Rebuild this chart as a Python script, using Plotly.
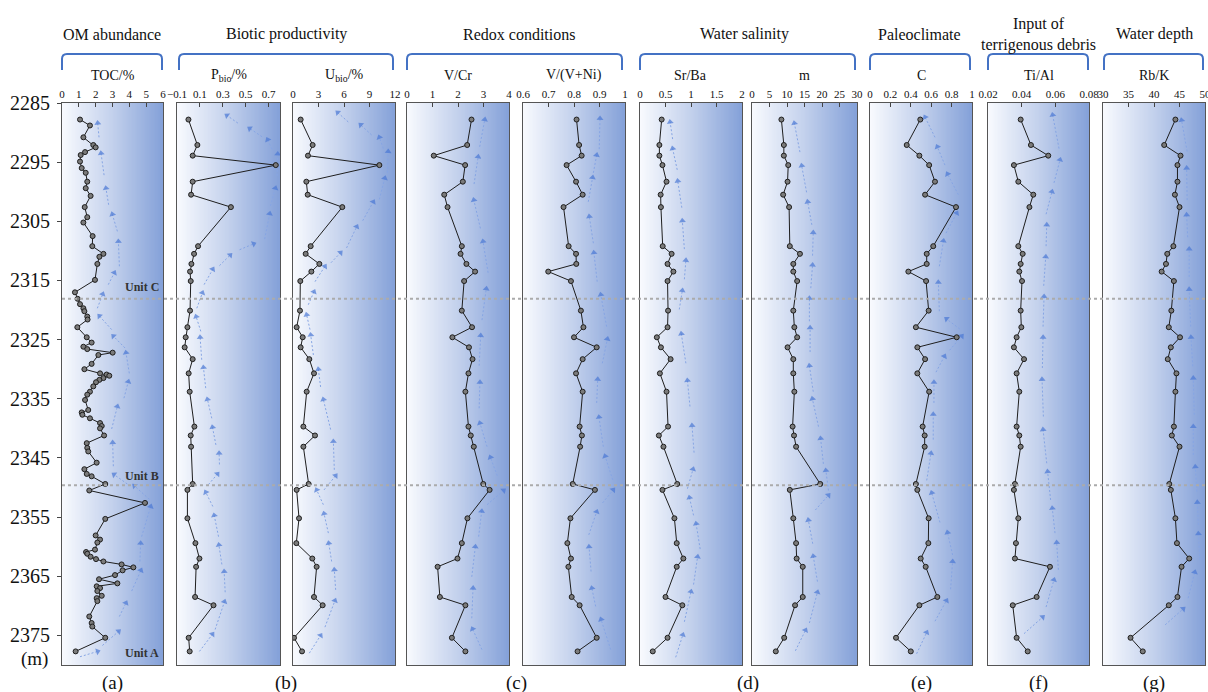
import numpy as np
import plotly.graph_objects as go

W, H = 1208, 692
SERIF = "Liberation Serif, Times New Roman, serif"

# ---------------- data ----------------
DEPTH = [2287.8, 2292.1, 2293.9, 2295.5, 2298.3, 2300.5, 2302.6, 2309.2, 2310.5, 2312.2,
         2313.5, 2315.1, 2320.1, 2322.9, 2324.6, 2326.3, 2328.3, 2330.7, 2333.8, 2339.7,
         2341.2, 2343.1, 2349.4, 2350.4, 2355.2, 2359.4, 2362.0, 2363.4, 2368.5, 2369.9,
         2375.4, 2377.7]

TOC_DEPTH = [2287.8, 2288.8, 2290.8, 2292.1, 2292.5, 2293.3, 2293.8, 2294.9, 2296.0, 2296.8,
             2298.3, 2299.4, 2300.7, 2302.6, 2304.3, 2305.2, 2307.5, 2309.2, 2310.5, 2311.0,
             2312.2, 2314.9, 2317.0, 2318.1, 2319.0, 2319.7, 2320.2, 2321.1, 2321.6, 2322.9,
             2324.6, 2325.5, 2326.2, 2326.6, 2327.2, 2327.6, 2329.1, 2330.0, 2330.7, 2330.9,
             2331.1, 2331.5, 2331.8, 2332.2, 2332.9, 2333.8, 2334.3, 2335.2, 2336.9, 2337.3,
             2337.7, 2338.3, 2339.1, 2339.6, 2340.0, 2341.2, 2342.5, 2343.3, 2343.9, 2345.8,
             2346.9, 2347.7, 2348.1, 2349.4, 2350.5, 2352.6, 2355.3, 2358.1, 2358.8, 2359.3,
             2360.5, 2360.9, 2361.2, 2361.7, 2362.1, 2362.5, 2363.0, 2363.5, 2364.0, 2364.8,
             2365.5, 2366.2, 2366.7, 2367.0, 2367.5, 2368.3, 2368.7, 2369.2, 2371.8, 2372.9,
             2373.5, 2375.4, 2377.7]
TOC = [1.07, 1.66, 1.27, 1.86, 2.0, 1.37, 1.11, 1.07, 1.17, 1.41,
       1.5, 1.41, 1.7, 1.35, 1.5, 1.27, 1.82, 1.8, 2.46, 2.22,
       2.1, 1.96, 0.77, 0.93, 1.07, 1.27, 1.33, 1.5, 1.52, 0.91,
       1.47, 1.76, 1.27, 1.5, 3.01, 2.16, 1.76, 1.33, 2.26, 2.65,
       2.81, 2.46, 2.22, 2.02, 1.86, 1.66, 1.5, 1.37, 1.56, 1.17,
       1.21, 1.66, 2.26, 2.36, 2.26, 2.5, 1.47, 1.5, 1.56, 2.06,
       1.33, 1.47, 1.76, 2.57, 1.62, 4.93, 2.57, 2.0, 2.26, 2.1,
       1.96, 1.43, 1.5, 1.7, 2.02, 2.46, 3.54, 4.24, 3.6, 3.15,
       2.2, 3.29, 2.06, 2.26, 2.1, 2.36, 2.06, 2.1, 1.62, 1.76,
       1.8, 2.57, 0.81]

P_BIO = [0.0, 0.078, 0.037, 0.763, 0.037, 0.023, 0.371, 0.084, 0.049, 0.026,
         0.014, 0.02, 0.014, -0.009, -0.024, -0.033, 0.037, 0.002, 0.011, 0.052,
         0.02, 0.023, 0.037, -0.009, -0.009, 0.061, 0.096, 0.067, 0.058, 0.219,
         0.002, 0.011]
U_BIO = [0.9, 2.31, 1.76, 10.16, 1.57, 1.73, 5.8, 2.08, 1.49, 3.1,
         2.16, 0.86, 0.82, 0.43, 1.14, 0.9, 1.92, 2.47, 1.61, 1.22,
         2.59, 1.22, 1.84, 0.43, 0.71, 0.39, 2.27, 2.78, 2.47, 3.49,
         0.12, 1.06]
V_CR = [2.53, 2.36, 1.05, 2.28, 2.19, 1.46, 1.59, 2.15, 2.1, 2.33,
        2.67, 2.24, 2.15, 2.55, 1.78, 2.43, 2.57, 2.41, 2.29, 2.41,
        2.5, 2.62, 2.99, 3.24, 2.37, 2.15, 1.98, 1.2, 1.29, 2.29,
        1.76, 2.29]
V_VNI = [0.81, 0.82, 0.83, 0.771, 0.808, 0.834, 0.759, 0.779, 0.808, 0.809,
         0.699, 0.788, 0.827, 0.837, 0.8, 0.889, 0.834, 0.808, 0.834, 0.822,
         0.831, 0.824, 0.795, 0.882, 0.786, 0.774, 0.788, 0.778, 0.791, 0.822,
         0.889, 0.814]
SR_BA = [0.425, 0.38, 0.38, 0.44, 0.52, 0.405, 0.41, 0.445, 0.62, 0.54,
         0.655, 0.54, 0.55, 0.54, 0.33, 0.41, 0.6, 0.39, 0.52, 0.55,
         0.37, 0.46, 0.73, 0.44, 0.675, 0.72, 0.85, 0.72, 0.5, 0.83,
         0.54, 0.25]
M_VAL = [8.4, 9.1, 9.1, 10.35, 10.16, 8.9, 10.6, 10.8, 13.7, 11.8,
         11.8, 12.9, 11.8, 12.1, 12.9, 10.16, 11.8, 11.8, 12.1, 11.6,
         12.0, 12.6, 19.5, 10.8, 11.8, 12.6, 12.75, 14.5, 14.5, 12.3,
         9.2, 6.8]
C_VAL = [0.493, 0.36, 0.484, 0.58, 0.637, 0.54, 0.843, 0.62, 0.556, 0.556,
         0.376, 0.55, 0.575, 0.45, 0.85, 0.464, 0.54, 0.464, 0.58, 0.516,
         0.536, 0.536, 0.45, 0.464, 0.575, 0.572, 0.497, 0.546, 0.66, 0.484,
         0.255, 0.4]
TI_AL = [0.0394, 0.0455, 0.0558, 0.0354, 0.038, 0.0469, 0.0446, 0.038, 0.0406, 0.0394,
         0.0386, 0.0402, 0.0394, 0.0398, 0.037, 0.0354, 0.0414, 0.037, 0.0386, 0.037,
         0.0386, 0.0394, 0.036, 0.0354, 0.038, 0.0366, 0.036, 0.0568, 0.0489, 0.0347,
         0.037, 0.0436]
RB_K = [44.2, 42.0, 45.2, 44.6, 44.6, 44.1, 45.0, 43.8, 42.6, 42.35,
        41.5, 43.9, 43.4, 42.9, 45.1, 43.3, 42.7, 44.4, 44.2, 43.9,
        43.5, 45.0, 43.0, 43.3, 44.2, 44.5, 46.9, 45.4, 44.6, 42.9,
        35.4, 37.8]

# trend arrows: (tail value, tail depth, head value, head depth)
TOC_ARROWS = [(2.2, 2290.8, 2.12, 2288.4), (2.5, 2297.2, 2.32, 2293.5), (2.77, 2302.2, 2.61, 2299.4),
              (3.29, 2306.7, 2.99, 2303.8), (3.41, 2312.6, 3.35, 2308.4), (2.75, 2315.7, 3.11, 2313.7),
              (2.1, 2319.7, 2.42, 2317.3), (2.95, 2323.3, 2.22, 2321.0), (3.74, 2326.4, 3.05, 2324.4),
              (4.0, 2330.7, 3.8, 2327.2), (3.68, 2334.9, 3.94, 2332.1), (2.95, 2340.1, 3.29, 2336.3),
              (3.05, 2346.4, 3.01, 2342.4), (3.88, 2349.4, 3.09, 2347.8), (5.19, 2352.0, 4.3, 2349.7),
              (4.73, 2358.3, 5.27, 2353.2), (4.63, 2362.5, 4.67, 2359.4), (4.14, 2367.5, 4.69, 2364.0),
              (3.41, 2371.8, 3.8, 2369.5), (2.4, 2376.7, 3.37, 2374.3), (1.07, 2378.6, 2.12, 2377.7)]
P_ARROWS = [(0.432, 2288.4, 0.336, 2287.1), (0.643, 2290.7, 0.535, 2289.3), (0.73, 2292.8, 0.692, 2291.2),
            (0.774, 2297.3, 0.78, 2293.6), (0.716, 2302.4, 0.76, 2299.4), (0.666, 2308.0, 0.71, 2303.7),
            (0.447, 2309.8, 0.57, 2308.8), (0.271, 2312.5, 0.365, 2310.7), (0.137, 2315.7, 0.213, 2313.1),
            (0.073, 2319.7, 0.122, 2317.1), (0.108, 2323.6, 0.067, 2321.1), (0.116, 2328.4, 0.102, 2324.6),
            (0.151, 2333.2, 0.131, 2329.7), (0.204, 2338.3, 0.166, 2335.1), (0.24, 2342.8, 0.21, 2339.8),
            (0.271, 2346.1, 0.268, 2344.2), (0.175, 2349.5, 0.254, 2347.7), (0.213, 2353.2, 0.151, 2350.8),
            (0.263, 2358.3, 0.225, 2354.7), (0.292, 2363.0, 0.266, 2359.7), (0.321, 2367.7, 0.312, 2364.2),
            (0.233, 2374.0, 0.315, 2369.3), (0.096, 2377.7, 0.21, 2374.8)]
U_ARROWS = [(6.5, 2288.2, 5.25, 2286.6), (9.25, 2290.4, 7.96, 2288.7), (10.63, 2292.7, 10.16, 2290.8),
            (11.1, 2296.8, 11.2, 2293.2), (10.16, 2301.3, 10.8, 2297.7), (8.2, 2304.9, 9.45, 2301.7),
            (6.3, 2309.5, 7.5, 2305.9), (4.47, 2312.0, 5.6, 2310.3), (2.59, 2315.2, 3.76, 2312.6),
            (1.8, 2319.1, 2.47, 2316.9), (2.0, 2323.3, 1.6, 2320.8), (2.4, 2327.6, 2.08, 2324.2),
            (3.25, 2333.0, 2.98, 2330.0), (4.43, 2340.2, 3.57, 2335.1), (4.86, 2347.0, 4.75, 2342.2),
            (3.65, 2350.4, 5.02, 2348.0), (3.57, 2352.9, 2.78, 2350.4), (4.16, 2357.7, 3.65, 2354.4),
            (4.55, 2362.5, 4.2, 2359.4), (5.02, 2367.3, 4.86, 2363.9), (3.76, 2373.6, 4.94, 2369.1),
            (1.92, 2378.0, 3.25, 2375.0)]
VCR_ARROWS = [(2.85, 2292.4, 3.05, 2287.8), (2.63, 2298.7, 2.79, 2294.1), (2.88, 2306.2, 2.62, 2301.4),
              (3.18, 2313.7, 2.98, 2308.4), (2.94, 2321.7, 3.11, 2316.4), (2.83, 2329.4, 2.89, 2324.3),
              (2.83, 2336.6, 2.86, 2332.2), (3.14, 2343.1, 2.86, 2339.1), (3.54, 2348.0, 3.27, 2344.9),
              (3.14, 2352.9, 3.79, 2350.5), (2.81, 2358.3, 2.93, 2354.0), (2.54, 2365.1, 2.68, 2360.0),
              (2.54, 2372.1, 2.59, 2367.0), (2.94, 2377.4, 2.57, 2373.9)]
VVNI_ARROWS = [(0.899, 2292.8, 0.902, 2287.6), (0.876, 2296.8, 0.889, 2293.8), (0.856, 2301.7, 0.873, 2297.6),
               (0.876, 2308.7, 0.86, 2304.2), (0.891, 2315.2, 0.878, 2310.3), (0.928, 2322.8, 0.905, 2317.4),
               (0.911, 2329.0, 0.931, 2324.9), (0.889, 2335.7, 0.893, 2331.7), (0.915, 2343.1, 0.898, 2338.1),
               (0.952, 2348.7, 0.922, 2344.7), (0.912, 2352.6, 0.954, 2350.4), (0.858, 2358.0, 0.889, 2354.1),
               (0.867, 2364.2, 0.859, 2360.0), (0.885, 2370.1, 0.87, 2367.0), (0.944, 2377.4, 0.906, 2372.3)]
SRBA_ARROWS = [(0.64, 2291.1, 0.59, 2288.2), (0.73, 2296.3, 0.64, 2292.7), (0.82, 2302.7, 0.74, 2298.2),
               (0.87, 2309.7, 0.83, 2304.9), (0.87, 2314.8, 0.9, 2311.6), (0.77, 2319.9, 0.83, 2316.7),
               (0.9, 2329.0, 0.81, 2324.0), (0.98, 2336.3, 0.93, 2331.9), (1.06, 2344.1, 1.02, 2339.5),
               (0.93, 2350.2, 1.04, 2346.9), (1.05, 2354.7, 0.97, 2351.7), (1.18, 2360.4, 1.1, 2356.1),
               (1.05, 2366.4, 1.13, 2361.7), (0.87, 2372.7, 1.0, 2367.6), (0.7, 2378.7, 0.84, 2374.9)]
M_ARROWS = [(13.7, 2293.3, 12.1, 2288.4), (15.6, 2300.1, 14.2, 2295.6), (17.1, 2305.6, 15.9, 2301.7),
            (17.3, 2310.8, 17.5, 2306.9), (16.8, 2316.3, 17.3, 2312.4), (16.4, 2321.9, 16.4, 2318.0),
            (16.6, 2327.1, 16.6, 2323.0), (17.5, 2333.8, 16.4, 2329.4), (19.0, 2339.7, 17.25, 2335.0),
            (20.4, 2346.0, 19.6, 2341.7), (21.85, 2350.5, 21.1, 2347.1), (18.1, 2353.8, 21.85, 2351.3),
            (17.35, 2359.5, 16.1, 2355.5), (18.7, 2365.9, 17.5, 2361.6), (16.4, 2372.9, 18.7, 2367.7),
            (12.4, 2377.6, 15.3, 2374.1)]
C_ARROWS = [(0.637, 2290.8, 0.54, 2287.4), (0.735, 2295.5, 0.66, 2292.4), (0.866, 2300.5, 0.76, 2297.0),
            (0.745, 2307.0, 0.85, 2303.6), (0.68, 2312.6, 0.72, 2308.3), (0.68, 2320.2, 0.67, 2315.3),
            (0.88, 2323.2, 0.75, 2321.5), (0.78, 2326.8, 0.9, 2324.4), (0.647, 2330.5, 0.73, 2327.8),
            (0.627, 2335.7, 0.627, 2332.2), (0.62, 2341.9, 0.62, 2337.6), (0.556, 2348.8, 0.598, 2344.2),
            (0.686, 2355.9, 0.605, 2350.9), (0.81, 2361.4, 0.76, 2357.6), (0.79, 2367.2, 0.81, 2362.5),
            (0.637, 2372.6, 0.75, 2369.1), (0.457, 2378.1, 0.556, 2374.5)]
TIAL_ARROWS = [(0.0622, 2292.7, 0.0584, 2287.0), (0.0592, 2298.5, 0.0628, 2294.6), (0.0545, 2303.8, 0.058, 2300.0),
               (0.0545, 2309.2, 0.0549, 2305.6), (0.0531, 2315.9, 0.0543, 2311.0), (0.0527, 2322.8, 0.0533, 2317.7),
               (0.0523, 2329.8, 0.0527, 2324.6), (0.0529, 2338.0, 0.0521, 2331.7), (0.0549, 2345.9, 0.0527, 2340.2),
               (0.0572, 2352.1, 0.0554, 2347.3), (0.0598, 2357.7, 0.0582, 2353.5), (0.0618, 2363.9, 0.0608, 2359.3),
               (0.0545, 2370.2, 0.0592, 2365.6), (0.0414, 2374.7, 0.0525, 2371.9)]
RBK_ARROWS = [(46.5, 2293.2, 45.4, 2287.9), (46.5, 2301.4, 46.4, 2296.0), (46.6, 2307.7, 46.4, 2303.9),
              (46.9, 2314.4, 46.9, 2309.7), (47.2, 2322.8, 46.9, 2316.5), (47.6, 2329.5, 47.25, 2324.6),
              (47.9, 2337.7, 47.7, 2331.5), (47.7, 2344.5, 47.7, 2339.7), (48.4, 2350.7, 48.1, 2346.5),
              (48.7, 2356.3, 48.5, 2352.5), (49.0, 2362.2, 48.7, 2357.8), (46.7, 2368.7, 48.0, 2364.3),
              (42.2, 2373.2, 45.75, 2370.5)]

DEPTH_TICKS = [2285, 2295, 2305, 2315, 2325, 2335, 2345, 2355, 2365, 2375]
DEPTH_RANGE = [2380, 2285]
UNIT_BOUNDS = [2318.1, 2349.6]

SUBTITLES = ["TOC/%", "P<sub>bio</sub>/%", "U<sub>bio</sub>/%", "V/Cr", "V/(V+Ni)",
             "Sr/Ba", "m", "C", "Ti/Al", "Rb/K"]
GROUPS = ["OM abundance", "Biotic productivity", "Redox conditions", "Water salinity",
          "Paleoclimate", "Input of<br>terrigenous debris", "Water depth"]
LETTERS = ["(a)", "(b)", "(c)", "(d)", "(e)", "(f)", "(g)"]

# ---------------- layout geometry (pixels) ----------------
PANEL_PX = [(62, 163), (177, 280), (293, 395), (407, 509), (523, 625),
            (640, 742), (752, 857), (870, 972), (988, 1089), (1103, 1205)]
GROUP_PX = [(62, 162), (179, 393), (407, 622), (640, 855), (870, 970), (988, 1088), (1104, 1203)]
GROUP_TXT_X = [112, 286, 519, 744, 919, 1038, 1154]
LETTER_X = [112, 286, 516, 748, 921, 1038, 1154]
PLOT_TOP, PLOT_BOT = 103, 665


def X(px):
    return px / W


def Y(py):
    return 1 - py / H


panels = [
    dict(vals=TOC, depth=TOC_DEPTH, rng=[0, 6], tv=[0, 1, 2, 3, 4, 5, 6], tt=None, arrows=TOC_ARROWS),
    dict(vals=P_BIO, depth=DEPTH, rng=[-0.1, 0.8], tv=[-0.1, 0.1, 0.3, 0.5, 0.7],
         tt=["\u22120.1", "0.1", "0.3", "0.5", "0.7"], arrows=P_ARROWS),
    dict(vals=U_BIO, depth=DEPTH, rng=[0, 12], tv=[0, 3, 6, 9, 12], tt=None, arrows=U_ARROWS),
    dict(vals=V_CR, depth=DEPTH, rng=[0, 4], tv=[0, 1, 2, 3, 4], tt=None, arrows=VCR_ARROWS),
    dict(vals=V_VNI, depth=DEPTH, rng=[0.6, 1.0], tv=[0.6, 0.7, 0.8, 0.9, 1.0],
         tt=["0.6", "0.7", "0.8", "0.9", "1"], arrows=VVNI_ARROWS),
    dict(vals=SR_BA, depth=DEPTH, rng=[0, 2], tv=[0, 0.5, 1, 1.5, 2],
         tt=["0", "0.5", "1", "1.5", "2"], arrows=SRBA_ARROWS),
    dict(vals=M_VAL, depth=DEPTH, rng=[0, 30], tv=[0, 5, 10, 15, 20, 25, 30], tt=None, arrows=M_ARROWS),
    dict(vals=C_VAL, depth=DEPTH, rng=[0, 1], tv=[0, 0.2, 0.4, 0.6, 0.8, 1.0],
         tt=["0", "0.2", "0.4", "0.6", "0.8", "1"], arrows=C_ARROWS),
    dict(vals=TI_AL, depth=DEPTH, rng=[0.02, 0.08], tv=[0.02, 0.04, 0.06, 0.08],
         tt=["0.02", "0.04", "0.06", "0.08"], arrows=TIAL_ARROWS),
    dict(vals=RB_K, depth=DEPTH, rng=[30, 50], tv=[30, 35, 40, 45, 50], tt=None, arrows=RBK_ARROWS),
]

GRAD = [[0.0, "#F8FAFE"], [0.5, "#C2D0EC"], [1.0, "#83A0D8"]]
ARROW_LINE = "#86A5E4"
ARROW_HEAD = "#4A78D4"

fig = go.Figure()
ydom = [Y(PLOT_BOT), Y(PLOT_TOP)]
NG = 80

for i, p in enumerate(panels):
    n = "" if i == 0 else str(i + 1)
    xa, ya = "x" + n, "y" + n
    lo, hi = p["rng"]
    fig.add_trace(go.Heatmap(
        x=np.linspace(lo, hi, NG), y=[2285, 2380],
        z=[np.linspace(0, 1, NG), np.linspace(0, 1, NG)],
        colorscale=GRAD, showscale=False, zsmooth="best", hoverinfo="skip",
        xaxis=xa, yaxis=ya))
    ax, ay, sz = [], [], []
    for t0, d0, t1, d1 in p["arrows"]:
        ax += [t0, t1, None]
        ay += [d0, d1, None]
        sz += [0, 6, 0]
    fig.add_trace(go.Scatter(
        x=ax, y=ay, mode="lines+markers", hoverinfo="skip",
        line=dict(color=ARROW_LINE, width=1, dash="2px,2px"),
        marker=dict(symbol="triangle-up", size=sz, angleref="previous", color=ARROW_HEAD,
                    line=dict(width=0)),
        xaxis=xa, yaxis=ya))
    fig.add_trace(go.Scatter(
        x=p["vals"], y=p["depth"], mode="lines+markers",
        line=dict(color="#1E1E1E", width=1),
        marker=dict(size=5, color="#7A7A7A", line=dict(color="#1E1E1E", width=1)),
        xaxis=xa, yaxis=ya))

    x0, x1 = PANEL_PX[i]
    xaxis = dict(domain=[X(x0), X(x1)], range=p["rng"], side="top", anchor=ya, automargin=False,
                 tickmode="array", tickvals=p["tv"], ticks="inside", ticklen=4,
                 ticklabeloverflow="allow",
                 tickcolor="#444", showline=True, linecolor="#555", linewidth=1, mirror=True,
                 showgrid=False, zeroline=False, fixedrange=True,
                 tickfont=dict(family=SERIF, size=11, color="#111"))
    if p["tt"] is not None:
        xaxis["ticktext"] = p["tt"]
    yaxis = dict(domain=ydom, range=DEPTH_RANGE, anchor=xa, automargin=False, showline=True,
                 linecolor="#555", linewidth=1, mirror=True, showgrid=False, zeroline=False,
                 fixedrange=True, tickmode="array", tickvals=DEPTH_TICKS,
                 showticklabels=(i == 0), ticks="outside" if i == 0 else "", ticklen=4,
                 ticklabelstandoff=3,
                 tickcolor="#444", tickfont=dict(family=SERIF, size=20, color="#111"))
    fig.layout["xaxis" + n] = xaxis
    fig.layout["yaxis" + n] = yaxis

annotations = []
for txt, cx in zip(GROUPS, GROUP_TXT_X):
    annotations.append(dict(text=txt, x=X(cx), y=Y(34), xref="paper", yref="paper",
                            showarrow=False, xanchor="center", yanchor="middle",
                            font=dict(family=SERIF, size=16, color="#111")))
for txt, (x0, x1) in zip(SUBTITLES, PANEL_PX):
    annotations.append(dict(text=txt, x=X((x0 + x1) / 2), y=Y(75), xref="paper", yref="paper",
                            showarrow=False, xanchor="center", yanchor="middle",
                            font=dict(family=SERIF, size=14, color="#111")))
for txt, cx in zip(LETTERS, LETTER_X):
    annotations.append(dict(text=txt, x=X(cx), y=Y(683), xref="paper", yref="paper",
                            showarrow=False, xanchor="center", yanchor="middle",
                            font=dict(family=SERIF, size=19, color="#111")))
annotations.append(dict(text="(m)", x=X(34), y=Y(659), xref="paper", yref="paper",
                        showarrow=False, xanchor="center", yanchor="middle",
                        font=dict(family=SERIF, size=19, color="#111")))
for txt, d in [("Unit C", 2316.1), ("Unit B", 2348.1), ("Unit A", 2378.0)]:
    annotations.append(dict(text="<b>" + txt + "</b>", x=4.75, y=d, xref="x", yref="y",
                            showarrow=False, xanchor="center", yanchor="middle",
                            font=dict(family=SERIF, size=12, color="#333")))

shapes = []
r = 5
yt, yb = 54, 70
for x0, x1 in GROUP_PX:
    path = (f"M {X(x0)},{Y(yb)} L {X(x0)},{Y(yt + r)} Q {X(x0)},{Y(yt)} {X(x0 + r)},{Y(yt)} "
            f"L {X(x1 - r)},{Y(yt)} Q {X(x1)},{Y(yt)} {X(x1)},{Y(yt + r)} L {X(x1)},{Y(yb)}")
    shapes.append(dict(type="path", path=path, xref="paper", yref="paper",
                       line=dict(color="#4472C4", width=2)))
for d in UNIT_BOUNDS:
    shapes.append(dict(type="line", xref="paper", yref="y", x0=X(PANEL_PX[0][0]), x1=X(PANEL_PX[-1][1]),
                       y0=d, y1=d, layer="above", line=dict(color="#ABABAB", width=2, dash="dot")))

fig.update_layout(width=W, height=H, margin=dict(l=0, r=0, t=0, b=0),
                  paper_bgcolor="white", plot_bgcolor="white", showlegend=False,
                  annotations=annotations, shapes=shapes)

fig.write_html("out.html")
